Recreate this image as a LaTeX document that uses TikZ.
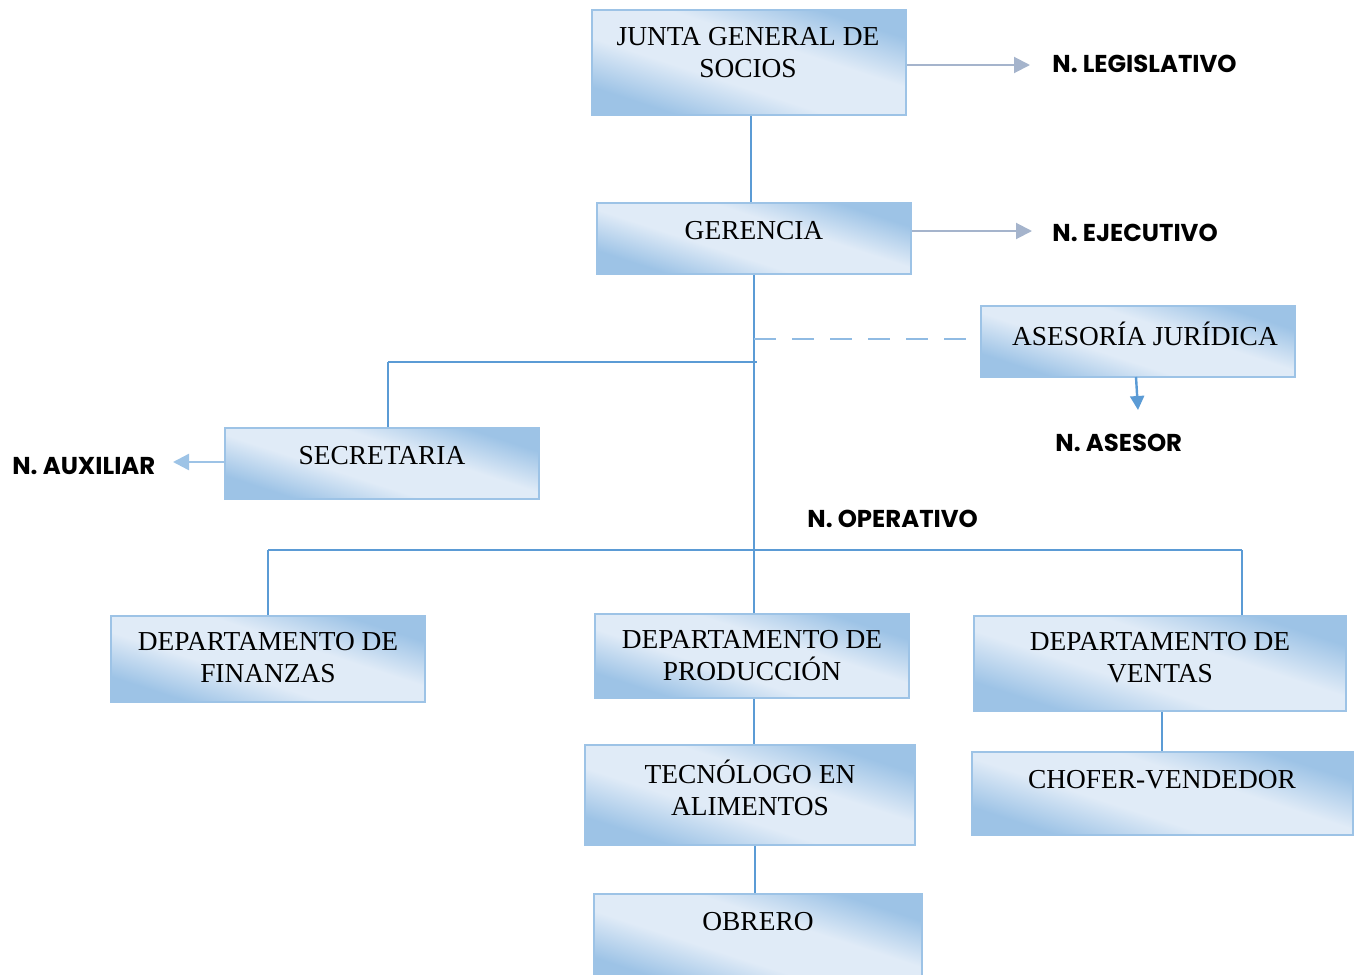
\documentclass[tikz,border=0pt]{standalone}
\usepackage{fontspec}
\setmainfont{Liberation Serif}
\newfontfamily\labfont{Poppins}
\usetikzlibrary{arrows.meta}
\definecolor{boxdark}{HTML}{9DC3E6}
\definecolor{boxlight}{HTML}{E0EBF7}
\definecolor{boxedge}{HTML}{9DC3E6}
\definecolor{lineblue}{HTML}{5B9BD5}
\definecolor{greyarrow}{HTML}{A5B4CC}
\pgfdeclareverticalshading{boxshade}{100bp}{color(0bp)=(boxdark); color(27bp)=(boxdark); color(42bp)=(boxlight); color(58bp)=(boxlight); color(73bp)=(boxdark); color(100bp)=(boxdark)}
\tikzset{
  orgbox/.style={draw=boxedge, line width=1.2pt, shading=boxshade, shading angle=-18, inner sep=0pt},
  boxtext/.style={align=center, font=\fontsize{13.7}{16}\selectfont, inner sep=0pt},
  levtext/.style={font=\labfont\bfseries\fontsize{12.2}{14}\selectfont, inner sep=0pt},
  conn/.style={draw=lineblue, line width=0.6pt},
}
\begin{document}
\begin{tikzpicture}[x=0.5pt,y=-0.5pt]
\useasboundingbox (0,0) rectangle (1361,975);
\clip (0,0) rectangle (1361,975);
% boxes
\node[orgbox, minimum width=157pt, minimum height=52.5pt] (jgs) at (749,62.5) {};
\node[orgbox, minimum width=157pt, minimum height=35.5pt] (ger) at (754,238.5) {};
\node[orgbox, minimum width=157pt, minimum height=35.5pt] (ase) at (1138,341.5) {};
\node[orgbox, minimum width=157pt, minimum height=35.5pt] (sec) at (382,463.5) {};
\node[orgbox, minimum width=157pt, minimum height=43pt] (fin) at (268,659) {};
\node[orgbox, minimum width=157pt, minimum height=42pt] (pro) at (752,656) {};
\node[orgbox, minimum width=186pt, minimum height=47.5pt] (ven) at (1160,663.5) {};
\node[orgbox, minimum width=165pt, minimum height=50pt] (tec) at (750,795) {};
\node[orgbox, minimum width=190.5pt, minimum height=41.5pt] (cho) at (1162.5,793.5) {};
\node[orgbox, minimum width=164pt, minimum height=45pt] (obr) at (758,939) {};
% box texts
\node[boxtext] (jgs-t) at (748,53) {JUNTA GENERAL DE\\SOCIOS};
\node[boxtext] (ger-t) at (754,231) {GERENCIA};
\node[boxtext] (ase-t) at (1145,334) {ASESORÍA JURÍDICA};
\node[boxtext] (sec-t) at (382,456) {SECRETARIA};
\node[boxtext] (fin-t) at (268,658) {DEPARTAMENTO DE\\FINANZAS};
\node[boxtext] (pro-t) at (752,656) {DEPARTAMENTO DE\\PRODUCCIÓN};
\node[boxtext] (ven-t) at (1160,658) {DEPARTAMENTO DE\\VENTAS};
\node[boxtext] (tec-t) at (750,788) {TECNÓLOGO EN\\ALIMENTOS};
\node[boxtext] (cho-t) at (1162,780) {CHOFER-VENDEDOR};
\node[boxtext] (obr-t) at (758,922) {OBRERO};
% level labels
\node[levtext, anchor=west] (nleg) at (1052,64) {N. LEGISLATIVO};
\node[levtext, anchor=west] (neje) at (1052,233) {N. EJECUTIVO};
\node[levtext, anchor=west] (nase) at (1055,443) {N. ASESOR};
\node[levtext, anchor=west] (naux) at (12,466) {N. AUXILIAR};
\node[levtext, anchor=west] (nope) at (807,519) {N. OPERATIVO};
% coordinates
\coordinate (bus1) at (754,362);
\coordinate (bus1l) at (388,362);
\coordinate (dash0) at (754,339);
\coordinate (bus2) at (754,550);
\coordinate (bus2l) at (268,550);
\coordinate (bus2r) at (1242,550);
\coordinate (legtip) at (1030,65);
\coordinate (ejetip) at (1032,231);
\coordinate (asetip) at (1138,410);
\coordinate (auxtip) at (173,462);
% connectors
\draw[conn] (jgs.south -| 751,0) -- (ger.north -| 751,0);
\draw[conn] (ger.south) -- (pro.north -| ger.south);
\draw[conn] (bus1l) -- (757,362);
\draw[conn] (bus1l) -- (sec.north -| bus1l);
\draw[conn, dash pattern=on 11pt off 8pt, draw=boxdark!80!lineblue, line width=0.9pt] (dash0) -- (ase.west |- dash0);
\draw[conn] (bus2l) -- (bus2r);
\draw[conn] (bus2l) -- (fin.north -| bus2l);
\draw[conn] (bus2r) -- (ven.north -| bus2r);
\draw[conn] (pro.south -| 754,0) -- (tec.north -| 754,0);
\draw[conn] (tec.south -| 755,0) -- (obr.north -| 755,0);
\draw[conn] (ven.south -| 1162,0) -- (cho.north -| 1162,0);
\draw[draw=greyarrow, line width=1pt, -{Triangle[length=8pt,width=8pt]}] (jgs.east |- legtip) -- (legtip);
\draw[draw=greyarrow, line width=1pt, -{Triangle[length=8pt,width=8pt]}] (ger.east |- ejetip) -- (ejetip);
\draw[draw=lineblue, line width=1.2pt, -{Triangle[length=7pt,width=7pt]}] (1136,377) -- (asetip);
\draw[draw=boxdark, line width=1.2pt, -{Triangle[length=8pt,width=8pt]}] (sec.west |- auxtip) -- (auxtip);
\end{tikzpicture}
\end{document}
